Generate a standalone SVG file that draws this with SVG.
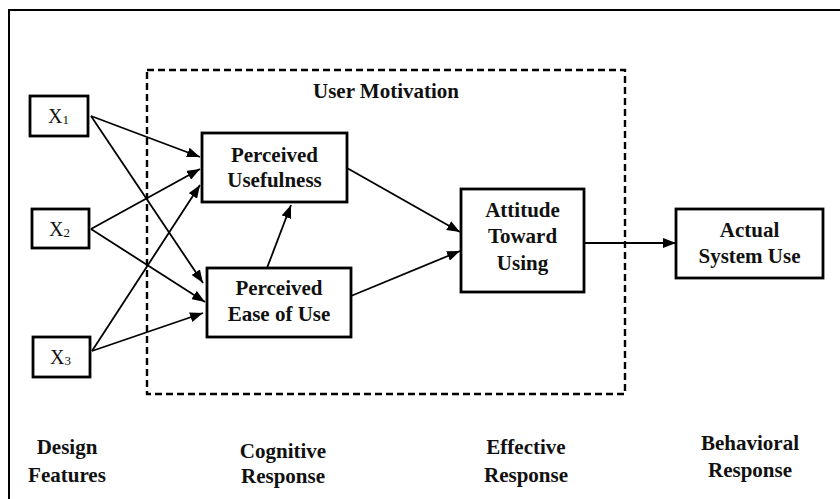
<svg xmlns="http://www.w3.org/2000/svg" width="840" height="499" viewBox="0 0 840 499">
<style>
.box{fill:#fff;stroke:#000;stroke-width:2.8}
.t{font-family:"Liberation Serif","Times New Roman",serif;font-weight:bold;font-size:21px;fill:#111;text-anchor:middle}
.x{font-family:"Liberation Serif","Times New Roman",serif;font-size:20px;fill:#111}
.c{stroke:#000;stroke-width:1.8;fill:none;marker-end:url(#ah)}
</style>
<defs>
<marker id="ah" markerUnits="userSpaceOnUse" markerWidth="13" markerHeight="10" refX="13" refY="5" orient="auto">
<path d="M0,0 L13,5 L0,10 z" fill="#000"/>
</marker>
</defs>
<rect width="840" height="499" fill="#fff"/>
<path d="M9,499 V10 H840" fill="none" stroke="#000" stroke-width="2"/>
<g id="user-motivation">
<rect x="147" y="70" width="478" height="324" fill="none" stroke="#000" stroke-width="2.4" stroke-dasharray="7,4"/>
<text class="t" x="386" y="98">User Motivation</text>
</g>
<g id="connectors">
<line class="c" x1="91" y1="116" x2="200" y2="157"/>
<line class="c" x1="91" y1="116" x2="203" y2="283"/>
<line class="c" x1="91" y1="229" x2="200" y2="169"/>
<line class="c" x1="91" y1="229" x2="205" y2="302"/>
<line class="c" x1="92" y1="351" x2="200" y2="185"/>
<line class="c" x1="92" y1="351" x2="203" y2="313"/>
<line class="c" x1="267" y1="268" x2="291" y2="205"/>
<line class="c" x1="347" y1="168" x2="460" y2="232"/>
<line class="c" x1="351" y1="296" x2="460" y2="251"/>
<line class="c" x1="584" y1="243" x2="676" y2="243"/>
</g>
<g id="x1">
<rect class="box" x="30" y="96" width="58" height="40"/>
<text class="x" x="48" y="123">X<tspan font-size="13" dy="1">1</tspan></text>
</g>
<g id="x2">
<rect class="box" x="32" y="209" width="57" height="39"/>
<text class="x" x="49" y="236">X<tspan font-size="13" dy="1">2</tspan></text>
</g>
<g id="x3">
<rect class="box" x="33" y="337" width="57" height="40"/>
<text class="x" x="50" y="364">X<tspan font-size="13" dy="1">3</tspan></text>
</g>
<g id="perceived-usefulness">
<rect class="box" x="202" y="133" width="145" height="69"/>
<text class="t" x="274.5" y="162">Perceived</text>
<text class="t" x="274.5" y="187">Usefulness</text>
</g>
<g id="perceived-ease-of-use">
<rect class="box" x="207" y="268" width="144" height="69"/>
<text class="t" x="279" y="295">Perceived</text>
<text class="t" x="279" y="321">Ease of Use</text>
</g>
<g id="attitude-toward-using">
<rect class="box" x="461" y="189" width="123" height="103"/>
<text class="t" x="522.5" y="217">Attitude</text>
<text class="t" x="522.5" y="243">Toward</text>
<text class="t" x="522.5" y="270">Using</text>
</g>
<g id="actual-system-use">
<rect class="box" x="676" y="209" width="147" height="69"/>
<text class="t" x="749.5" y="237">Actual</text>
<text class="t" x="749.5" y="263">System Use</text>
</g>
<g id="labels">
<text class="t" x="67" y="454">Design</text>
<text class="t" x="67" y="482">Features</text>
<text class="t" x="283" y="458">Cognitive</text>
<text class="t" x="283" y="483">Response</text>
<text class="t" x="526" y="454">Effective</text>
<text class="t" x="526" y="482">Response</text>
<text class="t" x="750" y="450">Behavioral</text>
<text class="t" x="750" y="477">Response</text>
</g>
</svg>
